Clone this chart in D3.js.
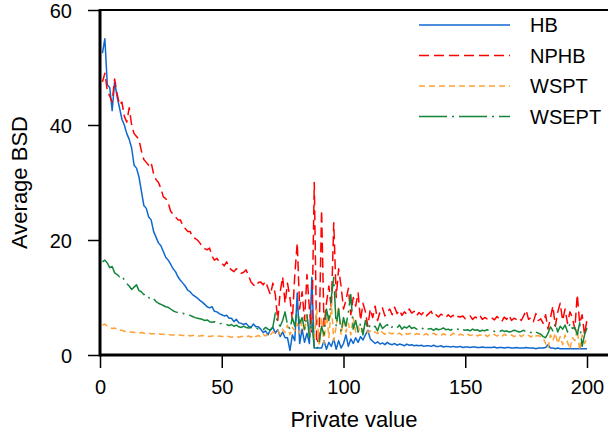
<!DOCTYPE html>
<html><head><meta charset="utf-8">
<script src="https://cdn.jsdelivr.net/npm/d3@7"></script>
<style>html,body{margin:0;padding:0;background:#fff;}svg{display:block;font-family:"Liberation Sans",Arial,sans-serif;}</style>
</head><body>
<svg id="chart" width="608" height="434"></svg>
<script>
const seriesNames = ["HB", "NPHB", "WSPT", "WSEPT"];
const xTicks = [0, 50, 100, 150, 200];
const yTicks = [0, 20, 40, 60];
const hb = [52.5,55,47,46.5,42.5,47.5,45,43,41,40,
38.5,37.5,36,33,32.5,31,28.5,26,25.5,24,
23.5,21.5,20.5,19.5,19,18,17,16.5,15.8,15,
14.5,13.6,13,12.5,12,11.3,11,10.5,10.2,9.9,
9.5,9.2,8.8,8.4,8.2,8.4,7.6,7.5,7.2,7.0,
6.8,6.9,6.4,6.4,5.8,6.2,5.6,5.5,5.3,5.5,
5.0,4.8,5.4,4.9,4.9,4.5,3.9,4.2,3.5,4.4,
4.8,3.8,4.4,3.2,4.0,3.0,3.0,0.8,3.5,2.5,
10.8,2.0,4.5,2.2,3.8,2.0,13.5,1.2,1.2,1.2,
1.2,2.5,1.0,2.2,1.5,2.8,1.0,2.5,1.2,2.0,
3.5,1.5,2.8,2.0,3.0,2.2,3.2,2.6,3.5,4.3,
2.8,2.4,2.0,2.3,1.9,2.1,1.8,2.2,1.9,1.8,
2.0,1.7,1.9,1.8,1.6,1.9,1.7,1.8,1.6,1.7,
1.6,1.7,1.5,1.6,1.6,1.5,1.7,1.5,1.5,1.6,
1.4,1.5,1.5,1.4,1.5,1.4,1.4,1.5,1.3,1.4,
1.4,1.3,1.4,1.4,1.3,1.3,1.4,1.3,1.3,1.3,
1.3,1.4,1.2,1.3,1.3,1.2,1.3,1.3,1.2,1.2,
1.3,1.2,1.2,1.2,1.3,1.2,1.2,1.2,1.1,1.2,
1.2,1.2,1.3,1.8,1.2,1.2,1.1,1.2,1.1,1.1,
1.1,1.1,1.1,1.1,1.1,1.1,1.1,1.1,1.1,1.1];
const nphb = [47.5,49,46,45,44,48,45.5,43.5,44,41.5,
40.5,43,40,38.5,38,37.5,35.5,34,33.5,33,
33.5,31.5,30.5,30,29,27.5,27.2,26.5,25,24.5,
24,23.5,23.5,22.5,22,21.5,21.5,20.5,20.3,20,
19.5,18.8,18.5,18.3,18.6,17.2,16.5,16.8,16.2,16,
15.5,16.2,15.2,14.8,14.5,15.0,14.7,14.2,14.4,14.8,
13.8,12.7,12.2,11.9,12.6,12.7,12.2,12.8,11.6,10.5,
12.5,10.5,6.0,11.0,13.6,9.0,12.5,10.0,6.0,14.0,
19.5,8.0,11.0,6.0,14.0,8.0,4.0,30.0,2.0,3.0,
25.2,5.0,9.0,12.0,8.0,23.0,10.0,15.0,12.0,8.0,
9.5,11.6,7.0,10.0,8.5,10.8,6.0,9.0,7.5,5.0,
8.0,6.5,8.5,6.0,7.5,8.2,6.8,7.5,8.0,7.0,
8.3,7.2,7.8,6.9,7.5,7.1,8.0,7.3,7.6,6.8,
7.4,7.0,7.5,6.8,7.2,7.6,6.7,7.0,6.6,7.1,
6.9,6.5,7.0,6.6,6.9,6.4,6.7,6.6,6.8,6.3,
6.5,6.8,6.2,6.6,6.4,6.9,6.2,6.5,6.3,6.6,
6.4,6.1,6.7,6.3,5.8,6.6,6.2,6.9,6.0,6.4,
6.2,6.5,6.0,6.8,7.8,6.2,6.5,5.8,7.2,6.0,
6.3,5.5,7.0,4.5,6.5,8.5,5.0,7.5,9.0,6.0,
8.0,5.5,7.5,6.5,4.5,10.5,5.5,7.0,3.5,6.2];
const wspt = [5.2,5.4,5.0,4.8,4.6,4.7,4.4,4.3,4.3,4.1,
4.2,4.0,4.0,3.9,3.9,3.8,3.9,3.8,3.7,3.8,
3.7,3.7,3.6,3.7,3.6,3.6,3.5,3.6,3.5,3.5,
3.5,3.4,3.5,3.4,3.4,3.5,3.3,3.4,3.4,3.3,
3.3,3.4,3.3,3.3,3.2,3.3,3.3,3.2,3.3,3.2,
3.2,3.3,3.2,3.1,3.2,3.2,3.1,3.2,3.2,3.1,
3.3,3.1,3.5,3.2,3.4,3.1,3.6,3.3,3.8,3.5,
4.0,3.8,4.3,3.6,4.5,3.9,5.2,3.5,4.8,4.2,
5.5,3.8,6.0,4.0,7.0,3.5,5.0,2.5,8.0,1.5,
6.5,2.0,7.5,3.0,9.0,2.5,5.0,8.5,3.5,6.0,
4.0,5.5,3.5,6.5,4.0,5.0,3.8,4.5,4.8,3.9,
4.2,3.8,4.0,3.7,4.3,3.9,3.6,4.1,3.8,3.7,
3.9,3.6,3.8,3.5,3.9,3.6,3.7,3.8,3.5,3.7,
3.6,3.8,3.5,3.7,3.4,3.6,3.8,3.5,3.6,3.4,
3.7,3.5,3.6,3.4,3.8,3.5,3.4,3.6,3.5,3.3,
3.6,3.4,3.5,3.7,3.3,3.5,3.4,3.6,3.2,3.5,
3.4,3.6,3.3,3.5,3.2,3.6,3.4,3.3,3.5,3.2,
3.4,3.6,3.2,3.5,3.3,3.4,3.1,3.6,3.3,3.4,
3.2,3.0,2.0,1.2,3.5,2.5,3.8,2.0,3.2,1.8,
3.5,2.2,1.0,3.0,2.5,4.5,0.8,3.5,2.0,3.0];
const wsept = [16.2,16.5,16.0,15.2,15.4,14.3,14.0,13.6,13.8,13.0,
12.4,12.0,11.4,11.8,12.2,11.2,11.0,10.5,10.6,10.0,
9.6,9.8,9.3,9.0,8.8,8.6,8.4,8.3,8.0,7.7,
7.5,7.4,7.3,7.3,7.0,6.9,6.9,6.7,6.5,6.4,
6.3,6.2,6.0,6.1,5.8,5.7,5.8,5.5,5.4,5.5,
5.3,5.3,5.1,5.3,5.0,5.2,4.9,4.8,5.0,4.8,
4.7,4.8,4.6,4.7,4.5,4.6,4.4,4.8,4.5,4.3,
4.9,7.3,5.5,5.0,6.0,7.5,5.2,4.5,6.5,5.0,
8.0,5.5,6.5,4.5,7.0,3.0,6.0,1.0,1.0,2.0,
5.0,3.5,8.0,6.0,10.0,13.5,5.0,8.0,4.0,6.5,
5.0,7.5,10.5,4.5,6.0,4.0,5.5,3.5,6.0,4.5,
5.2,4.8,5.0,4.2,5.5,4.6,5.0,5.3,4.6,4.9,
5.0,4.7,5.2,4.5,4.9,4.7,5.1,4.6,4.8,4.5,
4.6,4.8,4.4,4.7,4.5,4.6,4.3,4.6,4.4,4.5,
4.7,4.4,4.5,4.3,4.6,4.4,4.5,4.2,4.4,4.3,
4.4,4.2,4.5,4.3,4.4,4.1,4.3,4.2,4.4,4.2,
4.3,4.1,4.2,4.0,4.3,4.1,4.2,4.0,4.1,4.3,
4.2,4.0,4.1,4.3,4.0,4.1,3.9,4.2,4.0,3.8,
3.6,3.2,3.0,3.8,4.9,4.2,5.5,4.0,5.0,4.5,
5.2,4.0,5.5,4.6,4.8,3.5,5.6,1.5,3.5,4.7];

const seriesData = [hb, nphb, wspt, wsept];
const colors = ["#0f68cf", "#ff0000", "#ffa033", "#12853a"];
const dashes = [null, "10,5", "6,4", "28,5,2,5"];

const svg = d3.select("#chart");
const mLeft = 100, mRight = 608, mTop = 10, mBottom = 355;
const x = d3.scaleLinear().domain([0, 200]).range([mLeft, 587]);
const y = d3.scaleLinear().domain([0, 60]).range([mBottom, mTop]);

svg.append("defs").append("clipPath").attr("id", "clip")
  .append("rect").attr("x", mLeft).attr("y", mTop).attr("width", mRight - mLeft).attr("height", mBottom - mTop);

const line = d3.line().x((d, i) => x(i + 1)).y(d => y(d));
const g = svg.append("g").attr("clip-path", "url(#clip)");
seriesData.forEach((s, k) => {
  g.append("path").datum(s).attr("d", line)
    .attr("fill", "none").attr("stroke", colors[k]).attr("stroke-width", 1.5)
    .attr("stroke-linejoin", "round")
    .attr("stroke-dasharray", dashes[k]);
});

// axes
const xAxis = svg.append("g").attr("transform", `translate(0,${mBottom})`)
  .call(d3.axisBottom(x).tickValues(xTicks).tickSize(13).tickPadding(12).tickFormat(d3.format("d")));
const yAxis = svg.append("g").attr("transform", `translate(${mLeft},0)`)
  .call(d3.axisLeft(y).tickValues(yTicks).tickSize(12).tickPadding(16).tickFormat(d3.format("d")));
[xAxis, yAxis].forEach(a => {
  a.select(".domain").remove();
  a.selectAll(".tick line").attr("stroke", "#000").attr("stroke-width", 1.5);
  a.selectAll(".tick text").attr("font-size", 20).attr("fill", "#000")
    .attr("font-family", "'Liberation Sans', Arial, sans-serif");
});
xAxis.selectAll(".tick text").attr("dy", "0.71em");
yAxis.selectAll(".tick text").attr("dy", "0.36em");

// frame
svg.append("line").attr("x1", mLeft).attr("x2", mRight).attr("y1", mBottom).attr("y2", mBottom)
  .attr("stroke", "#000").attr("stroke-width", 3);
svg.append("line").attr("x1", mLeft).attr("x2", mLeft).attr("y1", mTop - 1).attr("y2", mBottom + 1.5)
  .attr("stroke", "#000").attr("stroke-width", 3);
svg.append("line").attr("x1", mLeft).attr("x2", mRight).attr("y1", mTop).attr("y2", mTop)
  .attr("stroke", "#000").attr("stroke-width", 2);

// labels
svg.append("text").attr("x", (mLeft + mRight) / 2).attr("y", 427).attr("text-anchor", "middle")
  .attr("font-size", 22).text("Private value");
svg.append("text").attr("transform", `translate(27,${(mTop + mBottom) / 2}) rotate(-90)`)
  .attr("text-anchor", "middle").attr("font-size", 22).text("Average BSD");

// legend
const leg = svg.append("g");
seriesNames.forEach((n, k) => {
  const ly = 25 + k * 30.5;
  leg.append("line").attr("x1", 419).attr("x2", 510).attr("y1", ly).attr("y2", ly)
    .attr("stroke", colors[k]).attr("stroke-width", 1.5).attr("stroke-dasharray", dashes[k]);
  leg.append("text").attr("x", 530).attr("y", ly).attr("dy", "0.36em")
    .attr("font-size", 20).text(n);
});
</script>
</body></html>
